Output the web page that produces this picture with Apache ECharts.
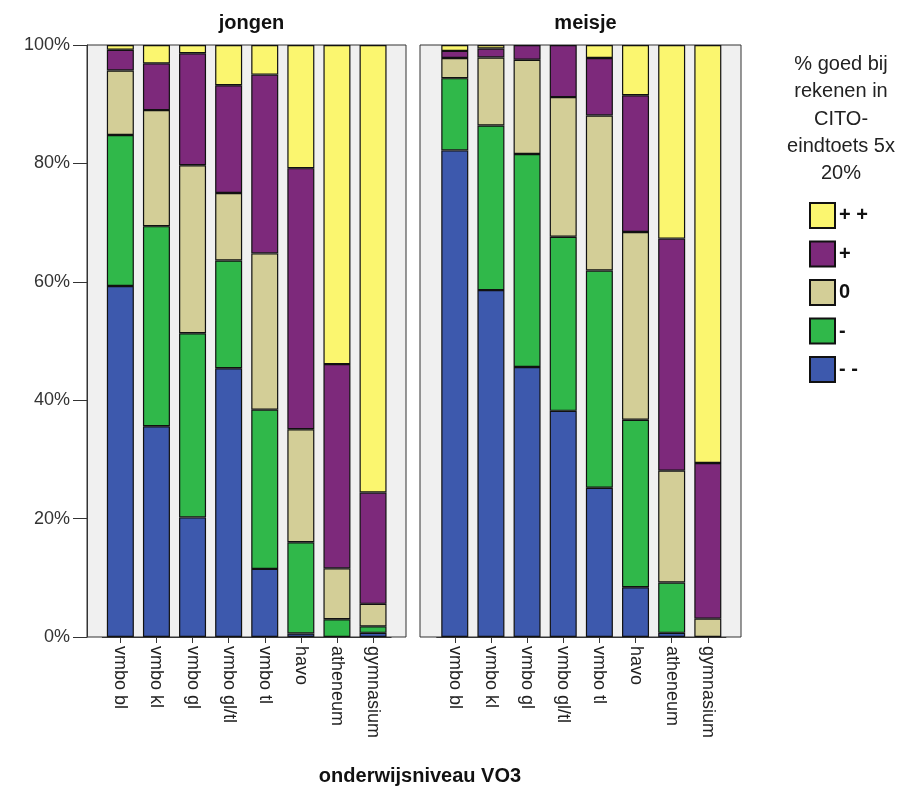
<!DOCTYPE html>
<html>
<head>
<meta charset="utf-8">
<script src="https://cdn.jsdelivr.net/npm/echarts@6/dist/echarts.min.js"></script>
<style>
html,body{margin:0;padding:0;background:#fff;}
#chart{width:920px;height:791px;}
</style>
</head>
<body>
<div id="chart"></div>
<script>
// ---- data (percent per category) ----
var categories = ['vmbo bl','vmbo kl','vmbo gl','vmbo gl/tl','vmbo tl','havo','atheneum','gymnasium'];
var panels = ['jongen','meisje'];
var seriesNames = ['- -','-','0','+','+ +'];            // stacking order bottom -> top
var legendOrder = ['+ +','+','0','-','- -'];
var yTicks = [0,20,40,60,80,100];

// jongen
var jongenMinMin = [59.3, 35.6, 20.2, 45.4, 11.5, 0.6, 0, 0.7];
var jongenMin    = [25.5, 33.8, 31.1, 18.2, 26.9, 15.4, 3.0, 1.1];
var jongenZero   = [10.9, 19.6, 28.4, 11.4, 26.4, 19.1, 8.6, 3.8];
var jongenPlus   = [3.5, 7.9, 18.9, 18.2, 30.2, 44.1, 34.5, 18.8];
var jongenPlusPlus = [0.8, 3.1, 1.4, 6.8, 5.0, 20.8, 53.9, 75.6];

// meisje
var meisjeMinMin = [82.2, 58.6, 45.6, 38.2, 25.2, 8.4, 0.7, 0];
var meisjeMin    = [12.2, 27.8, 36.0, 29.4, 36.7, 28.3, 8.5, 0];
var meisjeZero   = [3.4, 11.5, 15.9, 23.6, 26.2, 31.7, 18.9, 3.1];
var meisjePlus   = [1.2, 1.5, 2.5, 8.8, 9.7, 23.1, 39.2, 26.3];
var meisjePlusPlus = [1.0, 0.6, 0, 0, 2.2, 8.5, 32.7, 70.6];

var colors = {'- -':'#3d59ad','-':'#30b84a','0':'#d3ce97','+':'#7d297b','+ +':'#fbf66f'};

var panelData = [
  [jongenMinMin, jongenMin, jongenZero, jongenPlus, jongenPlusPlus],
  [meisjeMinMin, meisjeMin, meisjeZero, meisjePlus, meisjePlusPlus]
];

var FONT = 'Arial, "Liberation Sans", sans-serif';
var chart = echarts.init(document.getElementById('chart'));

var bgGrids = [
  {left:87, top:45, width:319, height:592},
  {left:420, top:45, width:321, height:592}
];
var dataGrids = [
  {left:102.3, top:45, width:288.8, height:592},
  {left:436.7, top:45, width:289.2, height:592}
];

var grids = [], xAxes = [], yAxes = [], series = [], titles = [];
bgGrids.forEach(function(g, i){
  grids.push(Object.assign({show:true, backgroundColor:'#f0f0f0', borderColor:'#333', borderWidth:1, outerBoundsMode:'none', containLabel:false}, g));
  xAxes.push({type:'value', gridIndex:i, show:false, min:0, max:1});
  yAxes.push({type:'value', gridIndex:i, min:0, max:100, interval:20,
    show: i === 0,
    axisLine:{show:true, lineStyle:{color:'#333'}},
    axisTick:{show:true, length:14, lineStyle:{color:'#333'}},
    axisLabel:{show:true, formatter:'{value}%', fontSize:18, color:'#333', fontFamily:FONT, margin:17},
    splitLine:{show:false}});
});
dataGrids.forEach(function(g, i){
  var gi = i + 2;
  grids.push(Object.assign({show:false, outerBoundsMode:'none', containLabel:false}, g));
  xAxes.push({type:'category', gridIndex:gi, data:categories, boundaryGap:true,
    axisLine:{show:true, lineStyle:{color:'#333'}},
    axisTick:{show:true, alignWithLabel:true, length:6, lineStyle:{color:'#333'}},
    axisLabel:{rotate:-90, fontSize:18, color:'#222', fontFamily:FONT, margin:9, interval:0}});
  yAxes.push({type:'value', gridIndex:gi, min:0, max:100, show:false, splitLine:{show:false}});
  seriesNames.forEach(function(name, k){
    series.push({
      type:'bar', name:name, stack:'s'+i, xAxisIndex:gi, yAxisIndex:gi,
      data:panelData[i][k].map(function(v){ return v === 0 ? null : v; }), barWidth:27,
      itemStyle:{color:colors[name], borderColor:'#111', borderWidth:1.2},
      emphasis:{disabled:true}
    });
  });
  titles.push({text:panels[i], left:(bgGrids[i].left + bgGrids[i].width/2), textAlign:'center', top:8,
    textStyle:{fontSize:20, fontWeight:'bold', color:'#111', fontFamily:FONT}});
});
titles.push({text:'onderwijsniveau VO3', left:415, textAlign:'center', top:761,
  textStyle:{fontSize:20, fontWeight:'bold', color:'#111', fontFamily:FONT}});
titles.push({text:'% goed bij\nrekenen in\nCITO-\neindtoets 5x\n20%', left:836, textAlign:'center', top:46,
  textStyle:{fontSize:20, fontWeight:'normal', color:'#222', fontFamily:FONT, lineHeight:27.3}});

chart.setOption({
  animation:false,
  title:titles,
  grid:grids,
  xAxis:xAxes,
  yAxis:yAxes,
  legend:{
    data:legendOrder, orient:'vertical', left:804, top:197,
    itemWidth:25, itemHeight:25, itemGap:11.5, icon:'rect',
    textStyle:{fontSize:20, fontWeight:'bold', color:'#111', fontFamily:FONT, padding:[0,0,0,-1]},
    selectedMode:false
  },
  series:series
});
</script>
</body>
</html>
